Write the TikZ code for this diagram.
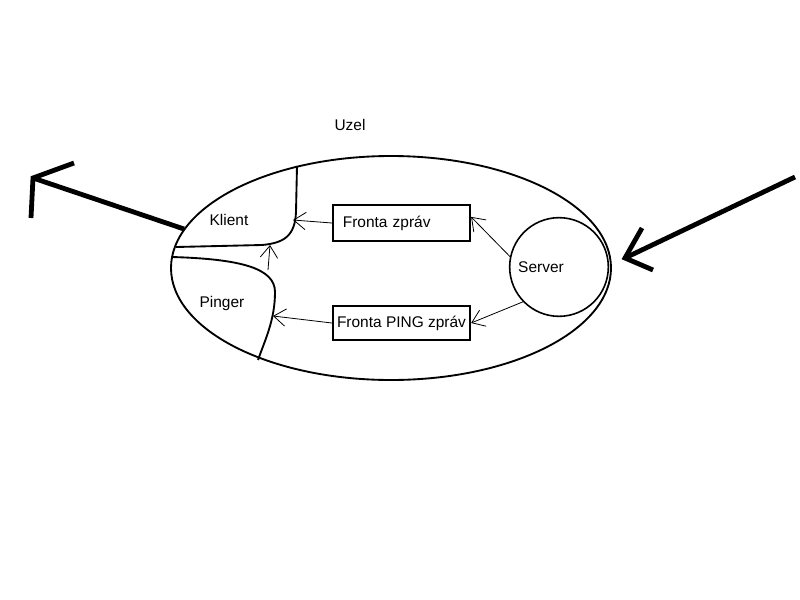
\documentclass[tikz,border=0pt]{standalone}
\usepackage{fontspec}
\setmainfont{Liberation Sans}
\usetikzlibrary{arrows.meta}
\begin{document}
\begin{tikzpicture}[x=0.75pt, y=-0.75pt,
  font=\fontsize{11.6}{13.5}\selectfont,
  queue/.style={draw, line width=1.4pt, minimum width=103pt, inner sep=0pt},
  msg/.style={line width=0.6pt, -{Straight Barb[length=9pt, width=13pt, line width=0.6pt]}},
  bigarrow/.style={line width=3.6pt}]
\useasboundingbox (0,0) rectangle (800,600);
\draw[black, line width=1.4pt] (391,268) ellipse [x radius=220, y radius=112];

\node (uzel) at (350,125) {Uzel};
\node[draw, circle, line width=1.2pt, minimum size=74pt, inner sep=0pt,
  label={[xshift=-13.5pt]center:Server}] (server) at (559,267) {};
\node[queue, minimum height=27pt, text width=88pt, inner xsep=7.5pt, align=left] (fronta) at (401.5,223) {Fronta zpráv};
\node[queue, minimum height=25.5pt] (ping) at (401.5,323) {Fronta PING zpráv};

% Klient and Pinger parts of the node
\draw[line width=1.4pt] (297,166) -- (296,212) .. controls (295,236) and (284,243) .. (262,245) -- (176,247);
\draw[line width=1.4pt] (172,257) .. controls (240,259) and (275,268) .. (275,292) .. controls (275,320) and (265,340) .. (258,360);
\node (klient) at (229,220) {Klient};
\node (pinger) at (222,303) {Pinger};

\coordinate (klientin) at (293,220);
\coordinate (klientbottom) at (270,245);
\coordinate (pingertop) at (268,270);
\coordinate (pingerin) at (273,316);

\draw[msg] (server.168) -- (fronta.5);
\draw[msg] (server.224) -- (ping.east);
\draw[msg] (fronta.west) -- (klientin);
\draw[msg] (ping.west) -- (pingerin);
\draw[msg] (pingertop) -- (klientbottom);

% incoming and outgoing
\coordinate (outtail) at (184,229);
\coordinate (outtip) at (33,178);
\coordinate (intail) at (795,177);
\coordinate (intip) at (625,258);
\draw[bigarrow] (outtail) -- (outtip);
\draw[bigarrow, line join=miter] (74,163) -- (outtip) -- (31,218);
\draw[bigarrow] (intail) -- (intip);
\draw[bigarrow, line join=miter] (642,228) -- (intip) -- (653,270);
\end{tikzpicture}
\end{document}
